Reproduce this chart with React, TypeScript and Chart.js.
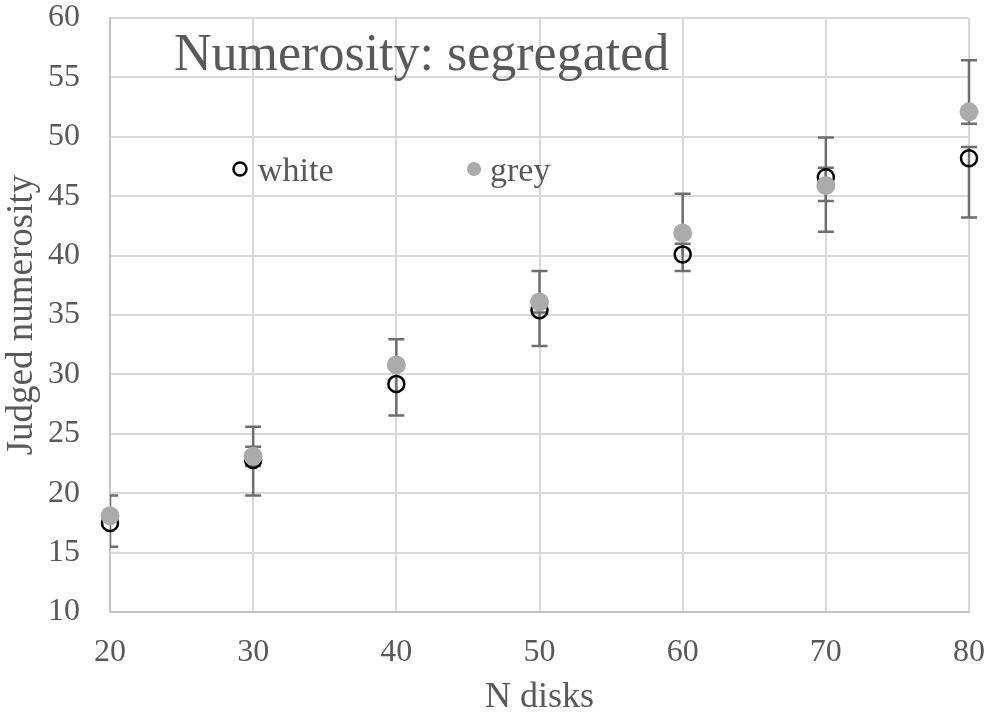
import React, { useEffect, useRef } from "react";
import { Chart, registerables } from "chart.js";

Chart.register(...registerables);

// ---- data ----
const nDisks = [20, 30, 40, 50, 60, 70, 80];
const whiteMeans = [17.5, 22.8, 29.2, 35.4, 40.1, 46.6, 48.2];
const greyMeans = [18.1, 23.1, 30.8, 36.1, 41.9, 45.9, 52.1];
// error bar ends (null = no bar on that side)
const whiteLow = [15.5, 19.8, 26.55, 32.4, null, 44.6, 43.2];
const whiteHigh = [19.8, 25.6, 32.95, 38.7, 41.0, 47.4, 49.15];
const greyLow = [null, 22.3, null, 35.2, 38.7, 42.0, 51.1];
const greyHigh = [null, 23.9, null, null, 45.2, 49.95, 56.45];

const xMin = 20, xMax = 80, xStep = 10;
const yMin = 10, yMax = 60, yStep = 5;

const titleText = "Numerosity: segregated";
const xTitle = "N disks";
const yTitle = "Judged numerosity";
const seriesNames = ["white", "grey"];

const FONT = "'Liberation Serif', 'Times New Roman', serif";
const TEXT = "#595959";
const GREY = "#ababab";
const ERR = "#6e6e6e";

const errorBarPlugin = {
  id: "errorBars",
  beforeDatasetsDraw(chart: any) {
    const { ctx, chartArea, scales } = chart;
    const xs = scales.x, ys = scales.y;
    ctx.save();
    ctx.beginPath();
    ctx.rect(chartArea.left, chartArea.top - 20, chartArea.right - chartArea.left + 20, chartArea.bottom - chartArea.top + 20);
    ctx.clip();
    ctx.strokeStyle = ERR;
    ctx.lineWidth = 2.5;
    const cap = 8;
    const sets = [
      { m: whiteMeans, lo: whiteLow, hi: whiteHigh },
      { m: greyMeans, lo: greyLow, hi: greyHigh },
    ];
    for (const s of sets) {
      nDisks.forEach((xv, i) => {
        const px = xs.getPixelForValue(xv);
        const py = ys.getPixelForValue(s.m[i]);
        for (const end of [s.lo[i], s.hi[i]]) {
          if (end === null || end === undefined) continue;
          const pe = ys.getPixelForValue(end);
          ctx.beginPath();
          ctx.moveTo(px, py);
          ctx.lineTo(px, pe);
          ctx.moveTo(px - cap, pe);
          ctx.lineTo(px + cap, pe);
          ctx.stroke();
        }
      });
    }
    ctx.restore();
  },
};

const overlayPlugin = {
  id: "overlayText",
  afterDraw(chart: any) {
    const { ctx, chartArea } = chart;
    const L = chartArea.left, T = chartArea.top;
    ctx.save();
    // title inside plot
    ctx.fillStyle = TEXT;
    ctx.font = `52px ${FONT}`;
    ctx.textBaseline = "alphabetic";
    ctx.textAlign = "left";
    ctx.fillText(titleText, L + 64, T + 52);
    // legend
    const ly = T + 151;
    ctx.beginPath();
    ctx.arc(L + 130, ly, 6.5, 0, Math.PI * 2);
    ctx.strokeStyle = "#000";
    ctx.lineWidth = 2.5;
    ctx.stroke();
    ctx.font = `34px ${FONT}`;
    ctx.fillStyle = TEXT;
    ctx.fillText(seriesNames[0], L + 148, ly + 12);
    ctx.beginPath();
    ctx.arc(L + 364, ly, 7, 0, Math.PI * 2);
    ctx.fillStyle = GREY;
    ctx.fill();
    ctx.fillStyle = TEXT;
    ctx.fillText(seriesNames[1], L + 380, ly + 12);
    ctx.restore();
  },
};

export default function App() {
  const ref = useRef<HTMLCanvasElement>(null);
  useEffect(() => {
    const canvas = ref.current!;
    const chart = new Chart(canvas, {
      type: "scatter",
      data: {
        datasets: [
          {
            label: seriesNames[1],
            data: nDisks.map((x, i) => ({ x, y: greyMeans[i] })),
            pointRadius: 9.5,
            pointHoverRadius: 9.5,
            pointBackgroundColor: GREY,
            pointBorderWidth: 0,
            borderWidth: 0,
            showLine: false,
            clip: false,
          } as any,
          {
            label: seriesNames[0],
            data: nDisks.map((x, i) => ({ x, y: whiteMeans[i] })),
            pointRadius: 8,
            pointHoverRadius: 8,
            pointBackgroundColor: "rgba(0,0,0,0)",
            pointBorderColor: "#000",
            pointBorderWidth: 2.5,
            showLine: false,
            clip: false,
          } as any,
        ],
      },
      options: {
        responsive: false,
        animation: false,
        devicePixelRatio: 1,
        layout: { padding: { top: 18, right: 23, left: 0, bottom: 0 } },
        plugins: {
          legend: { display: false },
          tooltip: { enabled: false },
          title: { display: false },
        },
        scales: {
          x: {
            type: "linear",
            min: xMin,
            max: xMax,
            ticks: {
              stepSize: xStep,
              color: TEXT,
              font: { family: FONT, size: 32 },
              padding: 21,
              maxRotation: 0,
            },
            grid: { color: "#d9d9d9", lineWidth: 2, drawTicks: false },
            border: { color: "#c4c4c4", width: 2 },
            title: {
              display: true,
              text: xTitle,
              color: TEXT,
              font: { family: FONT, size: 36 },
              padding: { top: 0, bottom: 0 },
            },
            afterFit(scale: any) {
              scale.height = 107;
              scale.paddingLeft = 0;
              scale.paddingRight = 0;
            },
          },
          y: {
            type: "linear",
            min: yMin,
            max: yMax,
            ticks: {
              stepSize: yStep,
              color: TEXT,
              font: { family: FONT, size: 32 },
              padding: 30,
            },
            grid: { color: "#d9d9d9", lineWidth: 2, drawTicks: false },
            border: { color: "#c4c4c4", width: 2 },
            title: {
              display: true,
              text: yTitle,
              color: TEXT,
              font: { family: FONT, size: 37 },
              padding: { top: 0, bottom: 0 },
            },
            afterFit(scale: any) {
              scale.width = 110;
              scale.paddingTop = 0;
              scale.paddingBottom = 0;
            },
          },
        },
      } as any,
      plugins: [errorBarPlugin, overlayPlugin],
    });
    return () => chart.destroy();
  }, []);
  return (
    <div style={{ position: "absolute", left: 0, top: 0, width: 992, height: 719, background: "#fff" }}>
      <canvas ref={ref} width={992} height={719} style={{ display: "block" }} />
    </div>
  );
}
